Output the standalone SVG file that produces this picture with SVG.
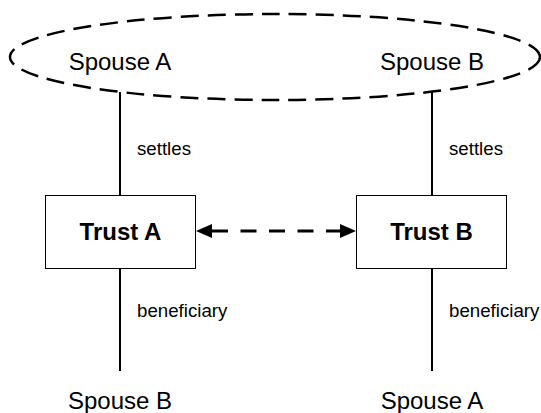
<svg xmlns="http://www.w3.org/2000/svg" width="541" height="413" viewBox="0 0 541 413">
<defs>
<style>
.big{font-family:"Liberation Sans",Arial,sans-serif;font-size:24px;fill:#000;text-anchor:middle}
.bold{font-weight:bold}
.lbl{font-family:"Liberation Sans",Arial,sans-serif;font-size:18.7px;fill:#000}
.box{fill:#fff;stroke:#000;stroke-width:1}
.ln{stroke:#000;stroke-width:2;fill:none}
</style>
<marker id="ah" viewBox="0 0 16 14" refX="0" refY="7" markerWidth="16" markerHeight="14" markerUnits="userSpaceOnUse" orient="auto-start-reverse">
<path d="M0,0 L16,7 L0,14 Z" fill="#000"/>
</marker>
</defs>
<rect width="541" height="413" fill="#fff"/>
<g id="couple">
<ellipse cx="275" cy="57" rx="265" ry="43" fill="none" stroke="#000" stroke-width="2.5" stroke-dasharray="18 9"/>
</g>
<g id="connectors">
<line class="ln" x1="120" y1="92" x2="120" y2="195"/>
<line class="ln" x1="432" y1="92" x2="432" y2="195"/>
<line class="ln" x1="120" y1="269" x2="120" y2="371"/>
<line class="ln" x1="432" y1="269" x2="432" y2="371"/>
<line x1="212" y1="231" x2="340" y2="231" stroke="#000" stroke-width="3" stroke-dasharray="16 12.5" marker-start="url(#ah)" marker-end="url(#ah)"/>
<text class="lbl" x="137" y="155">settles</text>
<text class="lbl" x="449" y="155">settles</text>
<text class="lbl" x="137" y="317">beneficiary</text>
<text class="lbl" x="449" y="317">beneficiary</text>
</g>
<g id="spouseA-top"><text class="big" x="120" y="70">Spouse A</text></g>
<g id="spouseB-top"><text class="big" x="432" y="70">Spouse B</text></g>
<g id="trustA">
<rect class="box" x="45.5" y="195.5" width="150" height="73"/>
<text class="big bold" x="120.5" y="240">Trust A</text>
</g>
<g id="trustB">
<rect class="box" x="356.5" y="195.5" width="150" height="73"/>
<text class="big bold" x="431.5" y="240">Trust B</text>
</g>
<g id="spouseB-bottom"><text class="big" x="120" y="409">Spouse B</text></g>
<g id="spouseA-bottom"><text class="big" x="432" y="409">Spouse A</text></g>
</svg>
